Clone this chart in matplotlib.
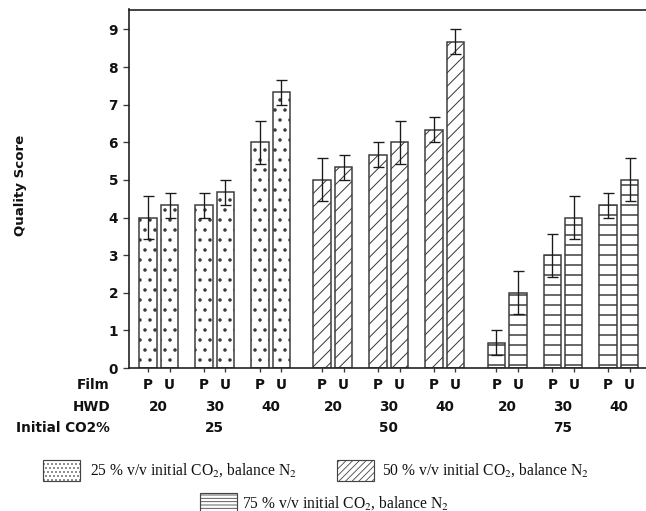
import matplotlib
matplotlib.use('Agg')
import matplotlib.pyplot as plt
from matplotlib.patches import Rectangle
from matplotlib.transforms import blended_transform_factory

# ---------------- data ----------------
co2_levels = ['25', '50', '75']
hwd_levels = ['20', '30', '40']
films = ['P', 'U']

# order within each CO2 group: P20, U20, P30, U30, P40, U40
scores_25 = [4.0, 4.33, 4.33, 4.67, 6.0, 7.33]
errors_25 = [0.57, 0.33, 0.33, 0.33, 0.57, 0.33]
scores_50 = [5.0, 5.33, 5.67, 6.0, 6.33, 8.67]
errors_50 = [0.57, 0.33, 0.33, 0.57, 0.33, 0.33]
scores_75 = [0.67, 2.0, 3.0, 4.0, 4.33, 5.0]
errors_75 = [0.33, 0.57, 0.57, 0.57, 0.33, 0.57]

y_ticks = [0, 1, 2, 3, 4, 5, 6, 7, 8, 9]
y_label = 'Quality Score'
row_labels = ['Film', 'HWD', 'Initial CO2%']
legend_labels = [
    '25 % v/v initial CO$_2$, balance N$_2$',
    '50 % v/v initial CO$_2$, balance N$_2$',
    '75 % v/v initial CO$_2$, balance N$_2$',
]

# ---------------- style ----------------
W, H, DPI = 646, 511, 120
plt.rcParams['mathtext.fontset'] = 'stix'
hatches = ['..', '///', '--']
hatch_lws = [0.9, 0.6, 0.9]
legend_hatches = ['.....', '//////', '------']
legend_hatch_lws = [0.5, 0.5, 0.5]
edge = '#3a3a3a'
GROUP_STEP, PAIR_STEP, BAR_STEP, BAR_W = 8.1, 2.6, 1.0, 0.81
TICK_FS = 8.2


def fx(px):
    return px / W


def fy(py):
    return 1 - py / H


fig = plt.figure(figsize=(W / DPI, H / DPI), dpi=DPI)
ax = fig.add_axes([fx(129), fy(368), fx(646) - fx(129), fy(9.5) - fy(368)])

all_scores = [scores_25, scores_50, scores_75]
all_errors = [errors_25, errors_50, errors_75]

tick_pos = []
for g, (vals, errs) in enumerate(zip(all_scores, all_errors)):
    xs = []
    for h in range(len(hwd_levels)):
        for f in range(len(films)):
            xs.append(g * GROUP_STEP + h * PAIR_STEP + f * BAR_STEP)
    plt.rcParams['hatch.linewidth'] = hatch_lws[g]
    ax.bar(xs, vals, width=BAR_W, color='white', edgecolor=edge,
           linewidth=0.9, hatch=hatches[g], zorder=2)
    ax.errorbar(xs, vals, yerr=errs, fmt='none', ecolor='#1a1a1a',
                elinewidth=0.8, capsize=3.3, capthick=0.8, zorder=3)
    tick_pos.extend(xs)

ax.set_xlim(-0.884, 23.16)
ax.set_ylim(0, 9.53)
ax.set_yticks(y_ticks)
ax.set_xticks(tick_pos)
ax.set_xticklabels([])
ax.tick_params(axis='y', length=3.6, width=0.8, pad=3, labelsize=TICK_FS,
               direction='out', color=edge)
ax.tick_params(axis='x', length=2.6, width=0.8, direction='out', color=edge)
for lab in ax.get_yticklabels():
    lab.set_fontweight('bold')
    lab.set_color('#111111')

ax.spines['right'].set_visible(False)
for s in ['left', 'top', 'bottom']:
    ax.spines[s].set_linewidth(1.0)
    ax.spines[s].set_color('#222222')

trans = blended_transform_factory(ax.transData, fig.transFigure)
txt_kw = dict(fontsize=TICK_FS, fontweight='bold', color='#111111',
              ha='center', va='center')

i = 0
for g in range(len(co2_levels)):
    for h in range(len(hwd_levels)):
        for f in range(len(films)):
            ax.text(tick_pos[i], fy(385), films[f], transform=trans, **txt_kw)
            i += 1
        xc = g * GROUP_STEP + h * PAIR_STEP + BAR_STEP / 2
        ax.text(xc, fy(407), hwd_levels[h], transform=trans, **txt_kw)
    xg = g * GROUP_STEP + PAIR_STEP + BAR_STEP / 2
    ax.text(xg, fy(428), co2_levels[g], transform=trans, **txt_kw)

for lbl, yp in zip(row_labels, [385, 407, 428]):
    fig.text(fx(110), fy(yp), lbl, ha='right', va='center', fontsize=TICK_FS,
             fontweight='bold', color='#111111')

fig.text(fx(21), fy(185), y_label, rotation=90, ha='center', va='center',
         fontsize=8, fontweight='bold', color='#111111')

# ---------------- legend ----------------
leg_items = [(43, 470, 90), (337, 470, 382), (200, 503, 242)]
for (px, pyc, tx), lab, hat, hlw in zip(leg_items, legend_labels,
                                       legend_hatches, legend_hatch_lws):
    plt.rcParams['hatch.linewidth'] = hlw
    r = Rectangle((fx(px), fy(pyc + 10.5)), 37 / W, 21 / H,
                  transform=fig.transFigure, facecolor='white',
                  edgecolor='#444444', linewidth=0.7, hatch=hat)
    fig.add_artist(r)
    fig.text(fx(tx), fy(pyc), lab, ha='left', va='center', fontsize=9.4,
             family='Liberation Serif', color='#111111')

fig.savefig('out.png', dpi=DPI)
